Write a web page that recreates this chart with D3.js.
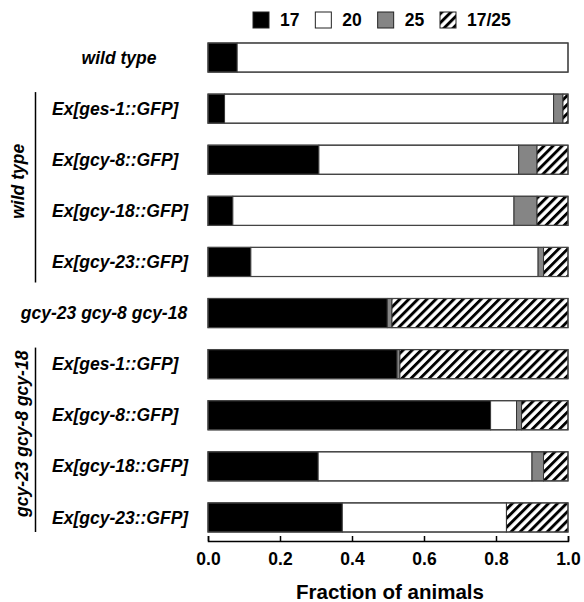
<!DOCTYPE html>
<html>
<head>
<meta charset="utf-8">
<script src="https://cdn.jsdelivr.net/npm/d3@7"></script>
<style>
  body { margin: 0; background: #fff; }
  svg text { font-family: "Liberation Sans", Arial, sans-serif; font-weight: bold; fill: #000; }
</style>
</head>
<body>
<svg width="584" height="602"></svg>
<script>
// rows, top to bottom
var rowLabels = ["wild type", "Ex[ges-1::GFP]", "Ex[gcy-8::GFP]", "Ex[gcy-18::GFP]", "Ex[gcy-23::GFP]",
                 "gcy-23 gcy-8 gcy-18", "Ex[ges-1::GFP]", "Ex[gcy-8::GFP]", "Ex[gcy-18::GFP]", "Ex[gcy-23::GFP]"];
// fraction of animals in each category
var f17   = [0.081, 0.046, 0.308, 0.069, 0.119, 0.498, 0.525, 0.785, 0.306, 0.373];
var f20   = [0.919, 0.914, 0.555, 0.781, 0.798, 0.000, 0.000, 0.072, 0.594, 0.456];
var f25   = [0.000, 0.026, 0.051, 0.064, 0.015, 0.013, 0.008, 0.014, 0.032, 0.000];
var f1725 = [0.000, 0.014, 0.086, 0.086, 0.068, 0.489, 0.467, 0.129, 0.068, 0.171];
var seriesKeys = ["17", "20", "25", "17/25"];
var xTicks = [0, 0.2, 0.4, 0.6, 0.8, 1.0];
var groupLabels = ["wild type", "gcy-23 gcy-8 gcy-18"];

var svg = d3.select("svg");

var rows = rowLabels.map(function(l, i) {
  return {id: i, label: l, "17": f17[i], "20": f20[i], "25": f25[i], "17/25": f1725[i]};
});

var x = d3.scaleLinear().domain([0, 1]).range([208, 568]);
var y = d3.scaleBand().domain(rows.map(function(d) { return d.id; }))
    .range([32, 543]).paddingInner(0.43).paddingOuter(0.215);

// hatch pattern for 17/25
var defs = svg.append("defs");
var pat = defs.append("pattern")
    .attr("id", "hatch")
    .attr("patternUnits", "userSpaceOnUse")
    .attr("width", 6.4).attr("height", 6.4)
    .attr("patternTransform", "rotate(45)");
pat.append("rect").attr("width", 6.4).attr("height", 6.4).attr("fill", "#fff");
pat.append("rect").attr("width", 2.9).attr("height", 6.4).attr("fill", "#000");

var fills = {"17": "#000", "20": "#fff", "25": "#858585", "17/25": "url(#hatch)"};

var stacked = d3.stack().keys(seriesKeys)(rows);

var layer = svg.append("g").selectAll("g")
    .data(stacked)
    .enter().append("g")
    .attr("fill", function(d) { return fills[d.key]; });

layer.selectAll("rect")
    .data(function(d) { return d.filter(function(s) { return s[1] - s[0] > 0; }); })
    .enter().append("rect")
    .attr("x", function(d) { return x(d[0]); })
    .attr("width", function(d) { return x(d[1]) - x(d[0]); })
    .attr("y", function(d) { return y(d.data.id); })
    .attr("height", y.bandwidth())
    .attr("stroke", "#333")
    .attr("stroke-width", 1);

// outline of whole bars
svg.append("g").selectAll("rect")
    .data(rows)
    .enter().append("rect")
    .attr("x", x(0)).attr("width", x(1) - x(0))
    .attr("y", function(d) { return y(d.id); })
    .attr("height", y.bandwidth())
    .attr("fill", "none").attr("stroke", "#444").attr("stroke-width", 1.2);

// row labels
var labelX = function(d) {
  if (d.id === 0) return 119;
  if (d.id === 5) return 104;
  return 52;
};
svg.append("g").selectAll("text")
    .data(rows)
    .enter().append("text")
    .attr("x", labelX)
    .attr("y", function(d) { return y(d.id) + y.bandwidth() / 2; })
    .attr("dy", "0.35em")
    .attr("text-anchor", function(d) { return (d.id === 0 || d.id === 5) ? "middle" : "start"; })
    .style("font-style", "italic")
    .style("font-size", "17.5px")
    .text(function(d) { return d.label; });

// group brackets
var groups = [{label: groupLabels[0], from: 1, to: 4, lx: 18, ext: 6},
              {label: groupLabels[1], from: 6, to: 9, lx: 22, ext: 0}];
groups.forEach(function(g) {
  var y0 = y(g.from) - 2, y1 = y(g.to) + y.bandwidth() + g.ext;
  svg.append("line")
      .attr("x1", 35.5).attr("x2", 35.5)
      .attr("y1", y0).attr("y2", y1)
      .attr("stroke", "#000").attr("stroke-width", 1.5);
  svg.append("text")
      .attr("transform", "translate(" + g.lx + "," + ((y0 + y1) / 2 - 6) + ") rotate(-90)")
      .attr("text-anchor", "middle")
      .attr("dy", "0.35em")
      .style("font-style", "italic")
      .style("font-size", "17.5px")
      .text(g.label);
});

// axis
var axis = svg.append("g")
    .attr("transform", "translate(0,541)")
    .call(d3.axisBottom(x).tickValues(xTicks).tickSize(-5).tickPadding(12).tickFormat(d3.format(".1f")));
axis.selectAll("path, line").attr("stroke", "#000").attr("stroke-width", 1.5);
axis.selectAll("text").style("font-size", "17.5px").style("font-family", "Liberation Sans, Arial, sans-serif").style("font-weight", "bold");

svg.append("text")
    .attr("x", (x(0) + x(1)) / 2 + 2)
    .attr("y", 599)
    .attr("text-anchor", "middle")
    .style("font-size", "20.5px")
    .text("Fraction of animals");

// legend
var legX = d3.scalePoint().domain(seriesKeys).range([253, 440]);
var leg = svg.append("g").selectAll("g")
    .data(seriesKeys)
    .enter().append("g")
    .attr("transform", function(d) { return "translate(" + legX(d) + ",12)"; });
leg.append("rect")
    .attr("width", 16).attr("height", 16)
    .attr("fill", function(d) { return fills[d]; })
    .attr("stroke", "#222").attr("stroke-width", 1);
leg.append("text")
    .attr("x", 27).attr("y", 8).attr("dy", "0.36em")
    .style("font-size", "17.5px")
    .text(function(d) { return d; });
</script>
</body>
</html>
